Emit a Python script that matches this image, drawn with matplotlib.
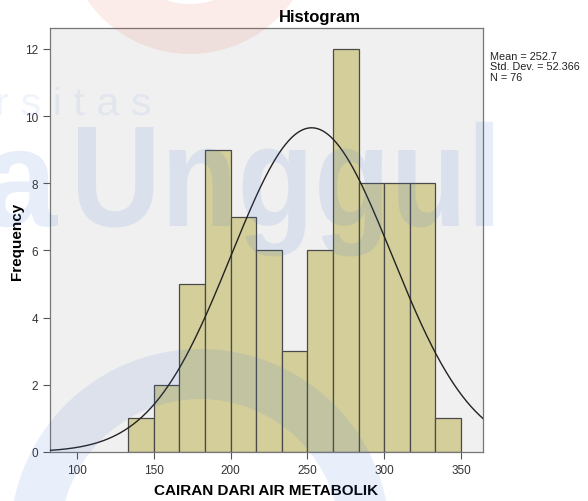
import numpy as np
import matplotlib
matplotlib.use("Agg")
import matplotlib.pyplot as plt
from matplotlib.patches import Wedge, PathPatch
from matplotlib.textpath import TextPath
from matplotlib.font_manager import FontProperties
from matplotlib.transforms import Affine2D, IdentityTransform

plt.rcParams['font.family'] = ['Liberation Sans', 'DejaVu Sans']

bin_start = 133.333
bin_width = 16.6667
counts = [1, 2, 5, 9, 7, 6, 3, 6, 12, 8, 8, 8, 1]
mean = 252.7
std = 52.366
n = 76
xticks = [100, 150, 200, 250, 300, 350]
yticks = [0, 2, 4, 6, 8, 10, 12]

W, H = 588, 502
fig = plt.figure(figsize=(W / 100, H / 100), dpi=100)
fig.patch.set_facecolor('white')
ax = fig.add_axes([50 / W, 49 / H, 433 / W, 424 / H])
ax.set_facecolor('#f0f0f0')

edges = bin_start + bin_width * np.arange(len(counts))
ax.bar(edges, counts, width=bin_width, align='edge', color='#d3ce9a',
       edgecolor='#4a4a4a', linewidth=0.9, zorder=2)

xlim = (82.4, 364.3)
xs = np.linspace(xlim[0], xlim[1], 400)
ys = n * bin_width / (std * np.sqrt(2 * np.pi)) * np.exp(-0.5 * ((xs - mean) / std) ** 2)
ax.plot(xs, ys, color='#222222', linewidth=1.0, zorder=3)

ax.set_xlim(*xlim)
ax.set_ylim(0, 12.62)
ax.set_xticks(xticks)
ax.set_yticks(yticks)
ax.tick_params(axis='both', direction='out', length=5, width=0.8, colors='#555555',
               labelcolor='#333333', labelsize=8.5)
for s in ax.spines.values():
    s.set_color('#777777')
    s.set_linewidth(0.9)

ax.set_title('Histogram', fontsize=12, fontweight='bold', x=(320 - 50) / 433, pad=5)
ax.set_xlabel('CAIRAN DARI AIR METABOLIK', fontsize=11, fontweight='bold', labelpad=5)
ax.set_ylabel('Frequency', fontsize=11, fontweight='bold')
ax.yaxis.set_label_coords((24 - 50) / 433, 0.5)

fig.text(490 / W, 1 - 52 / H, 'Mean = 252.7\nStd. Dev. = 52.366\nN = 76',
         fontsize=7.8, va='top', ha='left', color='#222222', linespacing=1.05)

# --- faint watermark overlay (pixel coordinates, origin bottom-left) ---
pix = IdentityTransform()

def wm_text(s, x0, baseline_y, width, cap_h, weight, color, alpha):
    tp = TextPath((0, 0), s, size=1, prop=FontProperties(family='Liberation Sans', weight=weight))
    ext = tp.get_extents()
    sx = width / ext.width
    sy = cap_h / 0.716
    tr = Affine2D().translate(-ext.x0, 0).scale(sx, sy).translate(x0, H - baseline_y)
    p = PathPatch(tr.transform_path(tp), facecolor=color, edgecolor='none', alpha=alpha,
                  transform=pix, zorder=20)
    fig.add_artist(p)

wm_text('Unggul', 78, 227, 415, 103, 'bold', '#3b6fd4', 0.12)
wm_text('a', -14, 227, 72, 100, 'bold', '#3b6fd4', 0.12)
wm_text('r s i t a s', -2, 116, 152, 28, 'normal', '#3b6fd4', 0.08)

ring = Wedge((200, H - 540), 190, 0, 180, width=50, facecolor='#3b6fd4', edgecolor='none',
             alpha=0.11, transform=pix, zorder=20)
fig.add_artist(ring)
top = Wedge((190, H + 70), 125, 180, 360, width=50, facecolor='#e0482c', edgecolor='none',
            alpha=0.10, transform=pix, zorder=20)
fig.add_artist(top)

fig.savefig('out.png', dpi=100)
